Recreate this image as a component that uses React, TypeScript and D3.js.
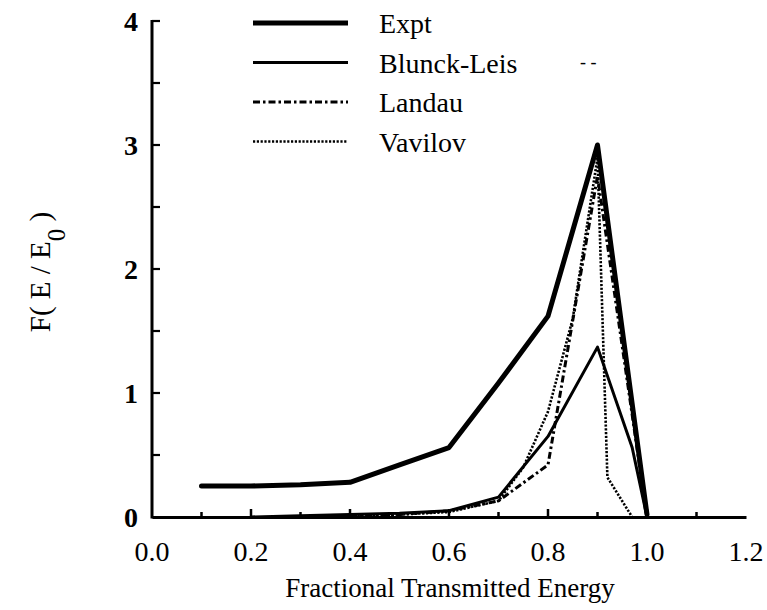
import React, { useRef, useEffect } from 'react';
import * as d3 from 'd3';

// fractional transmitted energy / F(E/E0)
const exptX = [0.1, 0.2, 0.3, 0.4, 0.5, 0.6, 0.7, 0.8, 0.9, 1.0];
const exptY = [0.25, 0.25, 0.26, 0.28, 0.42, 0.56, 1.08, 1.62, 3.0, 0.02];

const blunckX = [0.2, 0.3, 0.4, 0.5, 0.6, 0.7, 0.8, 0.9, 0.97, 1.0];
const blunckY = [0.0, 0.01, 0.02, 0.03, 0.05, 0.16, 0.65, 1.37, 0.56, 0.0];

const landauX = [0.4, 0.5, 0.6, 0.7, 0.8, 0.9, 1.0];
const landauY = [0.01, 0.02, 0.05, 0.13, 0.42, 2.75, 0.0];

const vavilovX = [0.4, 0.5, 0.6, 0.7, 0.75, 0.8, 0.85, 0.9, 0.92, 0.97];
const vavilovY = [0.01, 0.02, 0.04, 0.13, 0.4, 0.85, 1.6, 2.9, 0.32, 0.0];

const xTicks = [0.0, 0.2, 0.4, 0.6, 0.8, 1.0, 1.2];
const yTicks = [0, 1, 2, 3, 4];

const seriesNames = ['Expt', 'Blunck-Leis', 'Landau', 'Vavilov'];

const W = 767;
const H = 610;
const font = "'Liberation Serif', 'Times New Roman', Times, 'DejaVu Serif', serif";

const App = () => {
  const svgRef = useRef<SVGSVGElement>(null);

  useEffect(() => {
    const svg = d3.select(svgRef.current);
    svg.selectAll('*').remove();

    const x = d3.scaleLinear().domain([0, 1.2]).range([152, 746]);
    const y = d3.scaleLinear().domain([0, 4]).range([517, 21]);

    const styles = [
      { width: 5, dash: null },
      { width: 3, dash: null },
      { width: 3, dash: '7,3,2.5,3' },
      { width: 2.6, dash: '2.2,1.6' },
    ];
    const series = [
      d3.zip(exptX, exptY),
      d3.zip(blunckX, blunckY),
      d3.zip(landauX, landauY),
      d3.zip(vavilovX, vavilovY),
    ];

    const line = d3.line<number[]>()
      .x((d) => x(d[0]))
      .y((d) => y(d[1]));

    // axes
    const xAxis = d3.axisBottom(x)
      .tickValues(d3.range(0, 1.21, 0.1))
      .tickSize(0)
      .tickFormat(() => '');
    const gx = svg.append('g')
      .attr('transform', `translate(0, ${y(0)})`)
      .call(xAxis);
    gx.select('.domain').attr('stroke', '#000').attr('stroke-width', 3);

    // inward x ticks
    svg.selectAll('.xtick')
      .data(d3.range(1, 12))
      .enter()
      .append('line')
      .attr('x1', (i) => x(i / 10))
      .attr('x2', (i) => x(i / 10))
      .attr('y1', y(0))
      .attr('y2', (i) => y(0) - (i % 2 === 0 ? 8 : 5))
      .attr('stroke', '#000')
      .attr('stroke-width', 2.5);

    svg.selectAll('.xlabel')
      .data(xTicks)
      .enter()
      .append('text')
      .attr('x', (d) => x(d))
      .attr('y', 561)
      .attr('text-anchor', 'middle')
      .style('font-family', font)
      .attr('font-size', 28)
      .text((d) => d3.format('.1f')(d));

    svg.append('line')
      .attr('x1', x(0))
      .attr('x2', x(0))
      .attr('y1', y(0) + 1.5)
      .attr('y2', y(4) - 1)
      .attr('stroke', '#000')
      .attr('stroke-width', 3);

    svg.selectAll('.ytick')
      .data(d3.range(1, 9))
      .enter()
      .append('line')
      .attr('x1', x(0))
      .attr('x2', x(0) + 8)
      .attr('y1', (i) => y(i / 2))
      .attr('y2', (i) => y(i / 2))
      .attr('stroke', '#000')
      .attr('stroke-width', 2.2);

    svg.selectAll('.ylabel')
      .data(yTicks)
      .enter()
      .append('text')
      .attr('x', 138)
      .attr('y', (d) => y(d) + 10)
      .attr('text-anchor', 'end')
      .style('font-family', font)
      .attr('font-size', 28)
      .attr('font-weight', 'bold')
      .text((d) => d);

    // series
    series.forEach((pts, i) => {
      svg.append('path')
        .datum(pts)
        .attr('fill', 'none')
        .attr('stroke', '#000')
        .attr('stroke-width', styles[i].width)
        .attr('stroke-linejoin', 'round')
        .attr('stroke-linecap', i < 2 ? 'round' : 'butt')
        .attr('stroke-dasharray', styles[i].dash)
        .attr('d', line);
    });

    // legend
    const leg = svg.append('g');
    seriesNames.forEach((name, i) => {
      const ly = 23 + i * 39.5;
      leg.append('line')
        .attr('x1', 253)
        .attr('x2', 348)
        .attr('y1', ly)
        .attr('y2', ly)
        .attr('stroke', '#000')
        .attr('stroke-width', styles[i].width)
        .attr('stroke-dasharray', styles[i].dash);
      leg.append('text')
        .attr('x', 379)
        .attr('y', ly + 10)
        .style('font-family', font)
        .attr('font-size', 28)
        .text(name);
    });

    svg.append('text')
      .attr('x', 580)
      .attr('y', 68)
      .style('font-family', font)
      .attr('font-size', 18)
      .text('- -');

    // axis titles
    svg.append('text')
      .attr('x', 450)
      .attr('y', 597)
      .attr('text-anchor', 'middle')
      .style('font-family', font)
      .attr('font-size', 27)
      .text('Fractional Transmitted Energy');

    const yt = svg.append('text')
      .attr('transform', 'translate(50, 272) rotate(-90)')
      .attr('text-anchor', 'middle')
      .style('font-family', font)
      .attr('font-size', 29);
    yt.append('tspan').text('F( E / E');
    yt.append('tspan').attr('dy', 15).attr('font-size', 25).text('0');
    yt.append('tspan').attr('dy', -15).text(' )');
  }, []);

  return (
    <div style={{ position: 'absolute', left: 0, top: 0 }}>
      <svg ref={svgRef} width={W} height={H} style={{ display: 'block', background: '#fff' }} />
    </div>
  );
};

export default App;
